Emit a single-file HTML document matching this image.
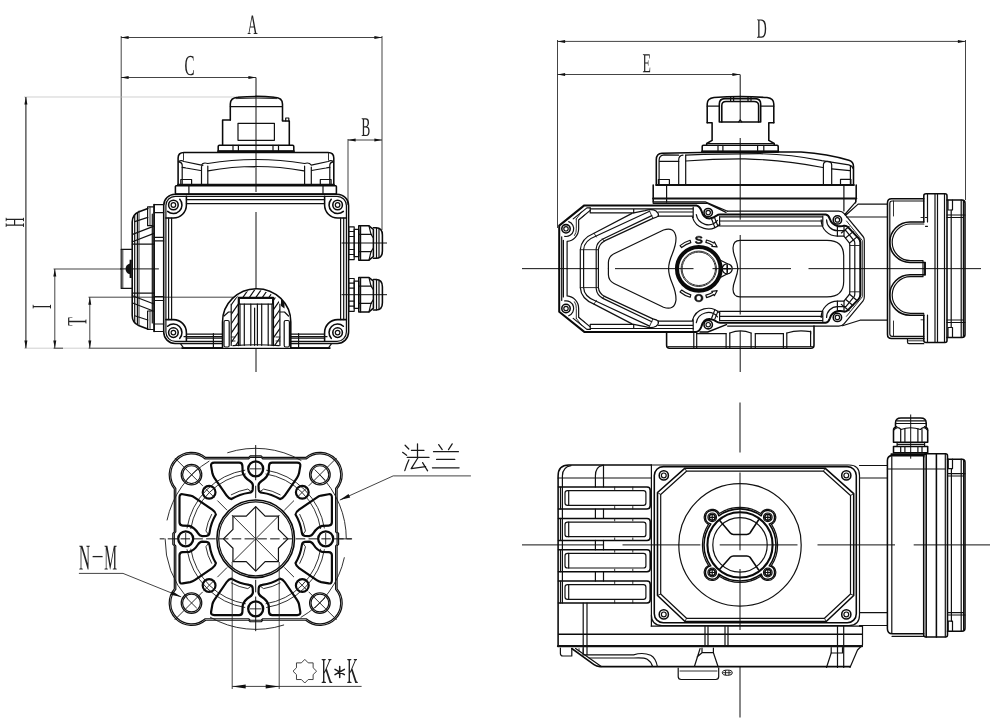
<!DOCTYPE html>
<html><head><meta charset="utf-8"><title>Actuator dimension drawing</title>
<style>
html,body{margin:0;padding:0;background:#fff;}
body{width:1000px;height:723px;overflow:hidden;font-family:"Liberation Serif",serif;}
svg{display:block;}
.n{fill:none;stroke:#111;stroke-width:1.2;stroke-linecap:round;stroke-linejoin:round}
.k{fill:none;stroke:#0a0a0a;stroke-width:1.55;stroke-linecap:round;stroke-linejoin:round}
.h{fill:none;stroke:#111;stroke-width:2.2;stroke-linecap:round;stroke-linejoin:round}
.t{fill:none;stroke:#1a1a1a;stroke-width:.9;stroke-linecap:round;stroke-linejoin:round}
.g{fill:none;stroke:#bbb;stroke-width:.7}
.d{fill:none;stroke:#222;stroke-width:.85}
.c{fill:none;stroke:#111;stroke-width:1}
.a{fill:#111;stroke:none}
.w{fill:#fff}
text{font-family:"Liberation Serif",serif;fill:#222;}
text.sb{font-family:"Liberation Sans",sans-serif;font-weight:bold;fill:#111}
</style></head><body>
<svg width="1000" height="723" viewBox="0 0 1000 723">
<rect x="0" y="0" width="1000" height="723" fill="#fff"/>
<!-- p_dims -->
<path class="d" d="M121.2 36L121.2 250"/>
<path class="d" d="M382 36L382 230"/>
<path class="d" d="M121 37.5L382 37.5"/>
<path class="a" d="M121 37.5L128.6 36L128.6 39Z"/>
<path class="a" d="M382 37.5L374.4 39L374.4 36Z"/>
<path transform="translate(252.5 34)" fill="#222" d="M-1.9 -0.7V0H-4.9V-0.7L-3.9 -1.1L-0.8 -18.5H0.5L3.8 -1.1L5 -0.7V0H1.1V-0.7L2.3 -1.1L1.4 -6.4H-2.2L-3.1 -1.1ZM-0.4 -16.5 -2 -7.6H1.2Z"/>
<path class="d" d="M121 77.5L256 77.5"/>
<path class="a" d="M121 77.5L128.6 76L128.6 79Z"/>
<path class="a" d="M256 77.5L248.4 79L248.4 76Z"/>
<path transform="translate(189.5 75)" fill="#222" d="M0.7 0.3Q-1.7 0.3 -3.1 -2.2Q-4.4 -4.7 -4.4 -9.3Q-4.4 -14.2 -3.1 -16.7Q-1.8 -19.2 0.7 -19.2Q2.2 -19.2 4 -18.5L4 -14.3H3.6L3.3 -16.8Q2.8 -17.4 2.1 -17.7Q1.5 -18.1 0.8 -18.1Q-1.1 -18.1 -2 -15.9Q-2.9 -13.8 -2.9 -9.3Q-2.9 -5.2 -2 -3Q-1.1 -0.8 0.7 -0.8Q1.5 -0.8 2.3 -1.2Q3 -1.6 3.4 -2.2L3.7 -5.1H4.2L4.2 -0.6Q2.5 0.3 0.7 0.3Z"/>
<path class="d" d="M348 139L348 205"/>
<path class="d" d="M348 140L382 140"/>
<path class="a" d="M348 140L355.6 138.5L355.6 141.5Z"/>
<path class="a" d="M382 140L374.4 141.5L374.4 138.5Z"/>
<path transform="translate(365.8 136)" fill="#222" d="M1.8 -13.4Q1.8 -15 1.3 -15.8Q0.8 -16.5 -0.3 -16.5H-1.7V-9.8H-0.3Q0.8 -9.8 1.3 -10.7Q1.8 -11.5 1.8 -13.4ZM2.5 -5Q2.5 -6.9 1.9 -7.8Q1.2 -8.6 -0.1 -8.6H-1.7V-1.2Q-0.8 -1.1 0.2 -1.1Q1.4 -1.1 1.9 -2.1Q2.5 -3 2.5 -5ZM-4.1 0V-0.7L-3 -1.1V-16.6L-4.1 -17V-17.7H-0.1Q1.6 -17.7 2.4 -16.7Q3.2 -15.7 3.2 -13.5Q3.2 -12 2.7 -10.9Q2.2 -9.8 1.3 -9.4Q2.5 -9.2 3.2 -8Q3.8 -6.9 3.8 -5.1Q3.8 -2.5 3 -1.2Q2.1 0.1 0.4 0.1L-2.4 0Z"/>
<path class="g" d="M24 97L256 97"/>
<path class="g" d="M24 348.2L89 348.2"/>
<path class="d" d="M25.9 97L25.9 348.2" style="stroke-width:1.1"/>
<path class="a" d="M25.9 97L27.4 104.6L24.4 104.6Z"/>
<path class="a" d="M25.9 348.2L24.4 340.6L27.4 340.6Z"/>
<path transform="translate(24 222.3) rotate(-90)" fill="#222" d="M-4.7 0V-0.7L-3.5 -1.1V-17.3L-4.7 -17.6V-18.3H-1V-17.6L-2.2 -17.3V-10H2.2V-17.3L1 -17.6V-18.3H4.6V-17.6L3.5 -17.3V-1.1L4.6 -0.7V0H1V-0.7L2.2 -1.1V-8.8H-2.2V-1.1L-1 -0.7V0Z"/>
<path class="d" d="M53.6 269L122 269"/>
<path class="d" d="M54.8 269L54.8 348.2"/>
<path class="a" d="M54.8 269L56.3 276.6L53.3 276.6Z"/>
<path class="a" d="M54.8 348.2L53.3 340.6L56.3 340.6Z"/>
<path transform="translate(51 306.6) rotate(-90)" fill="#222" d="M0.7 -1.1 1.8 -0.7V0H-1.8V-0.7L-0.6 -1.1V-17.3L-1.8 -17.6V-18.3H1.8V-17.6L0.7 -17.3Z"/>
<path class="d" d="M88.5 297.2L233.5 297.2"/>
<path class="d" d="M89.8 297.2L89.8 348.2"/>
<path class="a" d="M89.8 297.2L91.3 304.8L88.3 304.8Z"/>
<path class="a" d="M89.8 348.2L88.3 340.6L91.3 340.6Z"/>
<path transform="translate(86.4 321.5) rotate(-90)" fill="#222" d="M-2.1 0V-0.7L-0.7 -1.1V-17.2H-1Q-2.7 -17.2 -3.4 -16.9L-3.6 -14H-4V-18.3H4V-14H3.6L3.4 -16.9Q3.2 -17 2.5 -17.1Q1.8 -17.1 1 -17.1H0.7V-1.1L2.1 -0.7V0Z"/>
<path class="d" d="M53.6 348.2L63 348.2"/>
<path class="d" d="M88.7 348.2L182 348.2"/>
<path class="d" d="M557.5 40L557.5 228"/>
<path class="d" d="M965.5 40L965.5 200"/>
<path class="d" d="M557.5 41.4L965.5 41.4"/>
<path class="a" d="M557.5 41.4L565.1 39.9L565.1 42.9Z"/>
<path class="a" d="M965.5 41.4L957.9 42.9L957.9 39.9Z"/>
<path transform="translate(761.7 37.7)" fill="#222" d="M3.1 -9.3Q3.1 -13.1 2 -15.1Q1 -17.1 -0.9 -17.1H-2.2V-1.3Q-1.3 -1.2 -0.2 -1.2Q1.5 -1.2 2.3 -3.2Q3.1 -5.1 3.1 -9.3ZM-0.5 -18.3Q2 -18.3 3.3 -16.1Q4.5 -13.8 4.5 -9.3Q4.5 -4.7 3.3 -2.3Q2.1 0.1 -0.2 0.1L-3.5 0H-4.7V-0.7L-3.5 -1.1V-17.3L-4.7 -17.6V-18.3Z"/>
<path class="d" d="M557.5 74.5L740 74.5"/>
<path class="a" d="M557.5 74.5L565.1 73L565.1 76Z"/>
<path class="a" d="M740 74.5L732.4 76L732.4 73Z"/>
<path transform="translate(646.7 72.2)" fill="#222" d="M-3.8 -0.7 -2.6 -1.1V-16.9L-3.8 -17.3V-18H3V-13.7H2.5L2.3 -16.6Q1.5 -16.8 0.1 -16.8H-1.4V-9.8H1.1L1.3 -11.9H1.7V-6.4H1.3L1.1 -8.6H-1.4V-1.2H0.4Q2.2 -1.2 2.7 -1.4L3.1 -4.8H3.5L3.4 0H-3.8Z"/>
<!-- p_v1 -->
<path class="c" d="M256 77.5L256 192"/>
<path class="c" d="M256 212L256 372"/>
<path class="k" d="M230.3 120V104Q230.3 97.6 238 97.2Q256 95.6 274.5 97.2Q282.5 97.6 282.5 104V120"/>
<path class="t" d="M236 98.6Q256 97.6 277 98.6"/>
<path class="n" d="M230.3 106.6L282.5 106.6"/>
<path class="k" d="M230.3 120H222.6V145.3M282.5 120V121H289.3V145.3"/>
<path class="n" d="M285.7 121V118H288.8V121"/>
<rect class="n" x="238" y="123.3" width="36.4" height="17"/>
<path class="k" d="M219.4 145.3H292.6Q293.8 145.3 293.8 146.5V151.2H218.2V146.5Q218.2 145.3 219.4 145.3Z"/>
<path class="h" d="M218.2 151.3L293.8 151.3"/>
<path class="n" d="M233 145.3L233 151.2"/>
<path class="n" d="M238.4 145.3L238.4 151.2"/>
<path class="n" d="M273 145.3L273 151.2"/>
<path class="n" d="M278.5 145.3L278.5 151.2"/>
<path class="k" d="M178.1 184.9V158Q178.1 152.5 184 152.5H328Q333.8 152.5 333.8 158V184.9"/>
<path class="h" d="M178.1 184.9L333.8 184.9"/>
<path class="n" d="M182.2 184.9V165Q182.2 162.5 179 161.8M329.8 184.9V165Q329.8 162.5 333 161.8"/>
<path class="t" d="M183.5 153V160M328.5 153V160"/>
<path class="n" d="M178.5 161.8Q181 159.5 184 161.5L201.5 165.1Q203 162 207.8 163.5Q256 155.5 304.6 163.5Q309 162 311.3 165.1L328 161.5Q331 159.5 333.5 161.8"/>
<path class="n" d="M208 170.8Q256 162.2 304 170.8M182.2 167.3Q184 167.4 186 168L200.5 170.5M329.8 167.3Q328 167.4 326 168L311.5 170.5"/>
<path class="n" d="M201.5 184.9V167Q201.5 165.1 203 165.1M207.8 184.9V166M304.6 184.9V166M311.3 184.9V167"/>
<path class="n" d="M180.8 184.9V179.5H191.6V184.9M320.3 184.9V179.5H331.1V184.9"/>
<rect class="k" x="175.4" y="185.8" width="161" height="8.1" rx="0.8"/>
<path class="n" d="M188.9 185.8L188.9 193.9"/>
<path class="n" d="M323 185.8L323 193.9"/>
<rect class="k" x="163.7" y="194.2" width="184.9" height="149.2" rx="11.3"/>
<rect class="n" x="165.9" y="196.3" width="180.5" height="145" rx="9.3"/>
<circle class="k" cx="173.4" cy="205" r="4.8"/>
<circle class="n" cx="173.4" cy="205" r="2.3"/>
<circle class="k" cx="337.6" cy="205" r="4.8"/>
<circle class="n" cx="337.6" cy="205" r="2.3"/>
<circle class="k" cx="173.4" cy="332.6" r="4.8"/>
<circle class="n" cx="173.4" cy="332.6" r="2.3"/>
<circle class="k" cx="337.6" cy="332.6" r="4.8"/>
<circle class="n" cx="337.6" cy="332.6" r="2.3"/>
<path class="k" d="M186.4 196.3V205A13 13 0 0 1 173.4 218H165.9"/><path class="k" d="M179.79 199.25A8.6 8.6 0 0 1 167.65 211.39"/>
<path class="k" d="M324.6 196.3V205A13 13 0 0 0 337.6 218H346.4"/><path class="k" d="M331.21 199.25A8.6 8.6 0 0 0 343.35 211.39"/>
<path class="k" d="M186.4 341.3V332.6A13 13 0 0 0 173.4 319.6H165.9"/><path class="k" d="M179.79 338.35A8.6 8.6 0 0 0 167.65 326.21"/>
<path class="k" d="M324.6 341.3V332.6A13 13 0 0 1 337.6 319.6H346.4"/><path class="k" d="M331.21 338.35A8.6 8.6 0 0 1 343.35 326.21"/>
<path class="n" d="M186.4 199.7H324.6M186.4 338.2H222.5M290.8 338.2H324.6"/>
<path class="n" d="M168.6 218V319.6M343.7 218V319.6"/>
<path class="n" d="M186.4 203.6H324.6M171.6 218V319.6M340.6 218V319.6"/>
<path class="n" d="M186.5 334.1H222.5M290.8 334.1H324.5"/>
<path class="n" d="M184 336.7H222.5M290.8 336.7H327"/>
<path class="n" d="M180.5 343.6L183.5 347.9H328.5L331.5 343.6"/>
<path class="n" d="M176 343.5L336 343.5"/>
<path class="k" d="M182 348.1L330 348.1"/>
<path class="n" d="M213.4 333.5V347.9M298.6 333.5V347.9"/>
<path class="w" d="M222.5 347.7V322A33.9 33.1 0 0 1 290.8 322V347.7Z"/>
<defs><clipPath id="hc1"><path d="M231.2 345.5V303.5Q238 292 256 289.6Q274 292 279.9 303.5V345.5H273.3V297.6H238.5V345.5Z"/></clipPath></defs>
<path class="n" clip-path="url(#hc1)" d="M148 350L193 285M154.5 350L199.5 285M161 350L206 285M167.5 350L212.5 285M174 350L219 285M180.5 350L225.5 285M187 350L232 285M193.5 350L238.5 285M200 350L245 285M206.5 350L251.5 285M213 350L258 285M219.5 350L264.5 285M226 350L271 285M232.5 350L277.5 285M239 350L284 285M245.5 350L290.5 285M252 350L297 285M258.5 350L303.5 285M265 350L310 285M271.5 350L316.5 285M278 350L323 285M284.5 350L329.5 285M291 350L336 285M297.5 350L342.5 285M304 350L349 285M310.5 350L355.5 285M317 350L362 285M323.5 350L368.5 285M330 350L375 285M336.5 350L381.5 285M343 350L388 285M349.5 350L394.5 285M356 350L401 285M362.5 350L407.5 285M369 350L414 285M375.5 350L420.5 285M382 350L427 285M388.5 350L433.5 285M395 350L440 285M401.5 350L446.5 285"/>
<path class="k" d="M222.5 347.7V322A33.9 33.1 0 0 1 290.8 322V347.7"/>
<path class="n" d="M231.2 345.5V304M279.9 345.5V304"/>
<path class="k" d="M238.5 345.5V297.6H273.3V345.5"/>
<rect class="n" x="239.3" y="298.3" width="33.3" height="5.8"/>
<path class="n" d="M240 304.1L240 345.3"/>
<path class="n" d="M244.3 304.1L244.3 345.3"/>
<path class="n" d="M250.8 304.1L250.8 345.3"/>
<path class="n" d="M257.4 304.1L257.4 345.3"/>
<path class="n" d="M261.7 304.1L261.7 345.3"/>
<path class="n" d="M268.2 304.1L268.2 345.3"/>
<path class="n" d="M272 304.1L272 345.3"/>
<path class="n" d="M254.6 308L254.6 345.3"/>
<path class="n" d="M233 345.7Q256 343.8 279 345.7"/>
<path class="n" d="M224 316L228.5 312H231.2M288.5 316L284.5 312H279.9"/>
<rect class="n" x="224" y="320.5" width="5.2" height="26.5" rx="1.5"/>
<rect class="n" x="284.2" y="320.5" width="5.2" height="26.5" rx="1.5"/>
<path class="t" d="M231.2 337H235M231.2 341H235M279.9 337H276M279.9 341H276"/>
<path class="a" d="M281 299L284.5 303V308.5L281 306Z"/>
<path class="c" d="M341.5 243L387 243"/>
<rect class="n" x="348.8" y="226.8" width="5.4" height="32.8"/>
<path class="n" d="M348.8 231.5H354.2M348.8 236.5H354.2M348.8 249.5H354.2M348.8 254.5H354.2"/>
<rect class="n" x="354.2" y="229.4" width="4.6" height="27.2"/>
<path class="k" d="M358.8 225.8H369L373.4 229.5V256.5L369 260.2H358.8Z"/>
<path class="n" d="M358.8 234.4H371.5M358.8 251.6H371.5M360.6 225.8V260.2"/>
<path class="n" d="M369 225.8L371 234.4L373.4 238M369 260.2L371 251.6L373.4 248"/>
<path class="k" d="M373.4 227.7H376Q382.4 227.7 382.4 235V251Q382.4 258.3 376 258.3H373.4"/>
<path class="n" d="M376.5 227.7V258.3M379 229V257"/>
<path class="c" d="M341.5 294.7L387 294.7"/>
<rect class="n" x="348.8" y="278.5" width="5.4" height="32.8"/>
<path class="n" d="M348.8 283.2H354.2M348.8 288.2H354.2M348.8 301.2H354.2M348.8 306.2H354.2"/>
<rect class="n" x="354.2" y="281.1" width="4.6" height="27.2"/>
<path class="k" d="M358.8 277.5H369L373.4 281.2V308.2L369 311.9H358.8Z"/>
<path class="n" d="M358.8 286.1H371.5M358.8 303.3H371.5M360.6 277.5V311.9"/>
<path class="n" d="M369 277.5L371 286.1L373.4 289.7M369 311.9L371 303.3L373.4 299.7"/>
<path class="k" d="M373.4 279.4H376Q382.4 279.4 382.4 286.7V302.7Q382.4 310 376 310H373.4"/>
<path class="n" d="M376.5 279.4V310M379 280.7V308.7"/>
<path class="n" d="M163.7 204.6H154.1V331.5H163.7"/>
<path class="k" d="M154.1 204.6L154.1 331.5"/>
<path class="n" d="M152.3 214L152.3 323"/>
<path class="n" d="M154.1 212.6H163.7M154.1 237.3H163.7M154.1 240.9H163.7M154.1 296.5H163.7M154.1 300.5H163.7M154.1 324H163.7"/>
<path class="n" d="M154.1 206.8H147.6V225.7H152.3M154.1 329.5H147.6V311H152.3"/>
<path class="t" d="M150 206.8V225.7M150 311V329.5"/>
<path class="k" d="M147.8 208.5L138.5 212Q132.2 214.8 132.2 222V315.4Q132.2 322.6 138.5 325.4L147.8 328.9"/>
<path class="n" d="M134.7 215V322.4M137.4 212.6V324.8"/>
<path class="n" d="M134.7 221.6L147.8 217.4M132.6 234.4L154 226.1M132.4 241.7L154 233.4M132.4 244.2H154.1"/>
<path class="n" d="M134.7 315.8L147.8 320M132.6 303L154 311.3M132.4 295.7L154 304M132.4 293.2H154.1"/>
<path class="t" d="M139 211V325"/>
<path class="n" d="M132.2 249.4H121.2V288.4H132.2"/>
<path class="t" d="M122.8 249.4L122.8 288.4"/>
<path class="a" d="M131.8 259.8H129.6V263.5Q125.6 265 125.6 268.9Q125.6 272.8 129.6 274.3V278H131.8Z"/>
<path class="c" d="M120 268.9L158.9 268.9"/>
<!-- p_v2 -->
<path class="c" d="M740.2 74.5L740.2 120"/>
<path class="c" d="M740.2 138L740.2 219.7"/>
<path class="c" d="M740.2 235L740.2 314.5"/>
<path class="c" d="M740.2 331L740.2 372"/>
<path class="c" d="M522 268.65 H598M615 268.65 H693.5M712.5 268.65 H791M808.5 268.65 H981"/>
<path class="k" d="M707.2 122.8V104Q707.2 98.5 714 97.6Q740 95.5 767 97.6Q773.8 98.5 773.8 104V122.8"/>
<path class="k" d="M707.2 122.8H712.1V140.4L706.7 143.5V145.3M773.8 122.8H768.8V140.4L774.2 143.5V145.3"/>
<path class="n" d="M707.2 106.2H719.3M760.7 106.2H773.8"/>
<path class="k" d="M719.3 121.9V104Q719.3 98.6 725 98.6H755Q760.7 98.6 760.7 104V121.9Z"/>
<path class="k" d="M721.8 121.9V105.5Q721.8 101.4 726 101.4H754Q758.6 101.4 758.6 105.5V121.9"/>
<path class="n" d="M730.6 97V101.4M733.6 97V101.4M748 97V101.4M751 97V101.4"/>
<path class="n" d="M738.7 121.9L740.2 119.8L741.7 121.9"/>
<path class="n" d="M706.7 143.5L774.2 143.5"/>
<path class="k" d="M703.4 145.3H777Q778.2 145.3 778.2 146.5V151.6H702.2V146.5Q702.2 145.3 703.4 145.3Z"/>
<path class="h" d="M702.2 151.6L778.2 151.6"/>
<path class="n" d="M718 145.3L718 151.6"/>
<path class="n" d="M722.9 145.3L722.9 151.6"/>
<path class="n" d="M757.6 145.3L757.6 151.6"/>
<path class="n" d="M763.8 145.3L763.8 151.6"/>
<path class="k" d="M656.3 184.9V159.5Q656.3 153.6 662 153.2Q700 152.3 740 152.3Q780 151.8 801 152Q828 154 848.8 160.2Q853.5 161.6 853.5 166.5V184.9"/>
<path class="n" d="M659.1 184.9V160Q659.3 155.3 664 154.9L678.7 155.2M685.7 155.1Q720 153.9 760 153.7Q790 154.1 821.9 160.7L848.8 164.9Q852.5 165.8 853 168.5"/>
<path class="n" d="M659.5 161.4H678.7M685.7 161Q715 158.6 745 158.8Q785 160 822.9 167.5M831.7 168.8L849.9 170.6"/>
<path class="n" d="M678.7 184.9V160Q678.7 155.4 683 155.1M685.7 155.1V184.9"/>
<path class="n" d="M823.4 184.9V165Q823.4 161.3 827.5 161.3Q831.7 161.3 831.7 165V184.9"/>
<path class="n" d="M850.4 184.9V165.5"/>
<path class="n" d="M658.4 184.9V179.5H669.4V184.9M840.5 184.9V179.3H850.9V184.9"/>
<path class="h" d="M656.3 185L853.8 185"/>
<path class="k" d="M653.2 185V202.2M856.2 185V198.5"/>
<path class="h" d="M653.2 198.5L856.2 198.5"/>
<path class="n" d="M666.6 185V202.2M843.9 185V211M855.6 198.5V203"/>
<path class="n" d="M653.2 201.8H705.2L727.6 211.2M653.2 203.4H707.6L726 212.4"/>
<path class="n" d="M856 198.3V201.6L844.8 214.5M887.5 204.1H858.1L845.7 215.3M846.5 217H887.5"/>
<path class="n" d="M842.5 325.7L860 320.2H887.5"/>
<path class="k" d="M700 332H707.7L726.4 324.6"/>
<g id="v2t"><path class="k" style="stroke-width:2" d="M559.2 268.65 V225.6L584.3 205.4H696.4Q699.8 206 701.5 211Q703.6 218.6 709.5 218.4Q714 218 716.4 215.8Q718 214.6 720 214.6H825.7Q828.5 215 829.9 219.1Q831.5 224.8 838.2 226.2Q842 226.6 844 225.7Q846.5 225.4 848.2 227.4L858.6 238.2Q860.3 240 860.3 242.5V268.65"/>
<path class="n" d="M727.6 211.2H838.2Q842 211 844.2 213.7L863.1 236.5Q864.3 238 864.3 240.5V268.65"/>
<path class="t" d="M862.3 268.65V240.5L846.5 221"/>
<path class="n" d="M561.7 268.65V236.8M563.4 268.65V240.3"/>
<path class="n" d="M567.1 268.65V241.4A12.65 12.65 0 0 0 578.65 228.8V220L590.2 210.4"/>
<path class="n" d="M568.7 221.6A7.7 7.7 0 0 1 564.7 236.4"/>
<path class="t" d="M574.5 235.5A10.3 10.3 0 0 0 576.3 228.8V219"/>
<path class="n" d="M573.2 218.9L586.9 207.9H590.2"/>
<path class="t" d="M576.3 219L581.5 212M578.65 220L584.5 215.2"/>
<path class="n" d="M590.2 207.9V212.9H633.7V208.8M590.2 208.8H693.2"/>
<path class="n" d="M633.7 212.9L645 210.6Q652 208.6 656 211Q659.2 213.5 658.2 216.2"/>
<path class="n" d="M658.5 212H693.2M658.4 216.2H693.2M693.2 207V217.5"/>
<circle class="k" cx="566" cy="228.8" r="4.2"/>
<circle class="n" cx="566" cy="228.8" r="2.2"/>
<circle class="k" cx="708.2" cy="212.6" r="4.2"/>
<circle class="n" cx="708.2" cy="212.6" r="2.2"/>
<circle class="k" cx="837.4" cy="219.9" r="4.2"/>
<circle class="n" cx="837.4" cy="219.9" r="2.2"/>
<path class="n" d="M696.3 214.7A12.1 12.1 0 0 0 717.5 220.4"/>
<path class="n" d="M692.4 216.8A16.4 16.4 0 0 0 719.8 224.2"/>
<path class="n" d="M711.6 219L714.8 227.4M714.8 218.2L718 226.2"/>
<path class="n" d="M719.6 216.8H822.8M719.6 221H822.8M719.6 226H822.8M719.6 216.6V226M822.8 216V226"/>
<path class="n" d="M826.6 219.9A10.8 10.8 0 0 0 837.4 230.7H845.9L854.3 241Q854.8 242 854.8 243.5V268.65"/>
<path class="n" d="M821.2 219.9A16.2 16.2 0 0 0 837.4 236.1H843.9L849.3 242.8Q849.8 243.8 849.8 245.5V268.65"/>
<path class="n" d="M837.4 226.2V236.1M844 225.7V236.1"/>
<path class="n" d="M849.03 226.58L841.33 232.96M853.18 231.59L845.48 237.97M857.32 236.59L849.62 242.97"/>
<path class="t" d="M849.8 245.5H860.3"/>
<path class="n" d="M580.3 268.65V249.7Q581 238.5 594 233.2L632 213.4"/>
<path class="n" d="M583.6 268.65V249.7Q584 240.5 596.2 236L649.6 211.2"/>
<path class="n" d="M596.2 268.65V248.6Q596.8 242 603.4 238.7L651.8 215.6"/>
<path class="n" d="M598.4 268.65V249.7Q599 244 604.5 240.9L652.9 218.4Q657 217.4 658.2 216.2"/>
<path class="t" d="M580.3 249.7H598.4M594 233.2L596.4 237M602.3 238.7L604.5 241.4M649.6 211.2L652.9 218.4"/>
<path class="n" d="M608.4 268.65V262.5Q608.6 256.5 614 253.8L663.5 230Q674.5 226.3 676 237.5C676.5 251 668.6 256 668.6 268.65"/>
<path class="n" d="M737.8 268.65C737.5 260 733 256 733 248Q733.2 240.4 740 240.4H827Q843.7 240.4 843.7 256V268.65"/>
<path class="k" d="M923.8 222H910A20.25 20.25 0 0 0 910 262.5H925V268.65"/>
<path class="n" d="M923.8 224H910.5A18.3 18.3 0 0 0 910.5 260.6H923V268.65"/></g>
<use href="#v2t" transform="translate(0 537.3) scale(1 -1)"/>
<circle cx="698.8" cy="268.8" r="21.8" fill="none" stroke="#0a0a0a" stroke-width="4.1"/>
<circle class="t" cx="698.8" cy="268.8" r="17.7"/>
<circle class="t" cx="698.8" cy="268.8" r="16.7"/>
<path class="n" d="M719 259.5L727.5 263.8M719 278.1L727.5 273.8"/>
<circle cx="727.2" cy="268.8" r="5" fill="#fff" stroke="#0a0a0a" stroke-width="1.3"/>
<path class="k" d="M723.4 268.8H731M727.2 265V272.6"/>
<path transform="translate(698.8 243.6)" fill="#111" stroke="#111" stroke-width="0.55" stroke-linejoin="round" d="M3.6 -2.1Q3.6 -1 2.7 -0.5Q1.8 0.1 -0 0.1Q-1.6 0.1 -2.5 -0.4Q-3.5 -0.9 -3.7 -1.9L-2 -2.1Q-1.8 -1.6 -1.3 -1.3Q-0.8 -1 0 -1Q1.9 -1 1.9 -2Q1.9 -2.3 1.7 -2.5Q1.5 -2.7 1.1 -2.9Q0.7 -3 -0.4 -3.2Q-1.3 -3.4 -1.7 -3.5Q-2.1 -3.6 -2.4 -3.8Q-2.7 -3.9 -2.9 -4.2Q-3.1 -4.4 -3.2 -4.7Q-3.3 -5 -3.3 -5.4Q-3.3 -6.4 -2.5 -6.9Q-1.6 -7.4 0 -7.4Q1.6 -7.4 2.4 -7Q3.1 -6.6 3.4 -5.6L1.7 -5.4Q1.5 -5.8 1.1 -6.1Q0.7 -6.3 -0 -6.3Q-1.6 -6.3 -1.6 -5.5Q-1.6 -5.2 -1.4 -5Q-1.3 -4.8 -0.9 -4.7Q-0.6 -4.5 0.4 -4.4Q1.6 -4.1 2.1 -3.9Q2.7 -3.8 3 -3.5Q3.3 -3.3 3.4 -2.9Q3.6 -2.6 3.6 -2.1Z"/>
<path transform="translate(698.8 301.7)" fill="#111" stroke="#111" stroke-width="0.55" stroke-linejoin="round" d="M4.2 -3.7Q4.2 -2.5 3.7 -1.7Q3.2 -0.8 2.2 -0.4Q1.3 0.1 -0 0.1Q-2 0.1 -3.1 -0.9Q-4.2 -1.9 -4.2 -3.7Q-4.2 -5.4 -3.1 -6.4Q-2 -7.4 -0 -7.4Q2 -7.4 3.1 -6.4Q4.2 -5.4 4.2 -3.7ZM2.4 -3.7Q2.4 -4.9 1.8 -5.5Q1.2 -6.2 -0 -6.2Q-1.2 -6.2 -1.8 -5.5Q-2.5 -4.9 -2.5 -3.7Q-2.5 -2.5 -1.8 -1.8Q-1.2 -1.1 -0 -1.1Q1.2 -1.1 1.8 -1.8Q2.4 -2.4 2.4 -3.7Z"/>
<path class="n" d="M681.62 247.58A27.3 27.3 0 0 1 690.82 242.69L690.09 240.3A29.8 29.8 0 0 0 680.05 245.64Z"/>
<path class="n" d="M681.62 290.02A27.3 27.3 0 0 0 690.82 294.91L690.09 297.3A29.8 29.8 0 0 1 680.05 291.96Z"/>
<path class="n" d="M705.87 242.43A27.3 27.3 0 0 1 712.45 245.16L711.8 246.28L717.15 246.93L714.35 241.87L713.7 242.99A29.8 29.8 0 0 0 706.51 240.02Z"/>
<path class="n" d="M705.87 295.17A27.3 27.3 0 0 0 712.45 292.44L711.8 291.32L717.15 290.67L714.35 295.73L713.7 294.61A29.8 29.8 0 0 1 706.51 297.58Z"/>
<path class="k" d="M923.8 198.8H891.5Q887.5 198.8 887.5 202.8V334.5Q887.5 338.5 891.5 338.5H923.8"/>
<path class="n" d="M923.8 201H892Q889.8 201 889.8 203.5V333.8Q889.8 336.3 892 336.3H923.8"/>
<path class="t" d="M893.5 201V216M893.5 336.3V321M923.8 217.5H921M923.8 319.8H921"/>
<path class="k" d="M923.8 222V195.8Q923.8 193.8 926 193.8H945Q947 193.8 947 195.8V340.5Q947 342.5 945 342.5H926Q923.8 342.5 923.8 340.5V315"/>
<path class="n" d="M927.5 193.8V222M927.5 315V342.5M925.5 217.5H927.5M925.5 226.3H927.5"/>
<path class="k" d="M925 262.5V275"/>
<path class="n" d="M935 193.8V342.5M937.5 193.8V342.5M944.5 194V342.3"/>
<path class="k" d="M947 200H962Q965 200 965 203V334.5Q965 337.5 962 337.5H947"/>
<path class="n" d="M951.2 210V327.5M961.2 200V337.5M963.4 201V336.5"/>
<path class="n" d="M947 215H965M947 217.5H963.4M947 322.5H965M947 320H963.4"/>
<path class="n" d="M948 200V210H952.5V200M948 337.5V327.5H952.5V337.5"/>
<path class="n" d="M907.5 338.5V342Q907.5 343.7 909 343.7H923.8"/>
<path class="t" d="M908.5 340.8L923.8 340.8"/>
<path class="k" d="M666.6 332.5V345.2Q666.6 348.2 669.6 348.2H811Q814 348.2 814 345.2V326"/>
<path class="t" d="M668 346.5L812.5 346.5"/>
<path class="n" d="M693.8 333V348M696.7 333V348M726.1 333.5V348M729.8 333V348M751.1 333V348M755.3 333.5V348M783.4 333.5V348M786.8 333V348M810.6 331V346.5"/>
<path class="n" d="M696.7 333.6H726.1M729.8 333Q740.5 328.6 751.1 333M755.3 333.6H783.4M786.8 333Q797 329.6 810.6 331.6V334"/>
<!-- p_v3 -->
<g transform="translate(255.7 538.85)"><path class="n" d="M-50.01 -81.4L-7 -81.4L-5.5 -82.9L5.5 -82.9L7 -81.4L50.01 -81.4A22.3 22.3 0 0 1 81.4 -50.01L81.4 -7L82.9 -5.5L82.9 5.5L81.4 7L81.4 50.01A22.3 22.3 0 0 1 50.01 81.4L7 81.4L5.5 82.9L-5.5 82.9L-7 81.4L-50.01 81.4A22.3 22.3 0 0 1 -81.4 50.01L-81.4 7L-82.9 5.5L-82.9 -5.5L-81.4 -7L-81.4 -50.01A22.3 22.3 0 0 1 -50.01 -81.4Z"/>
<path class="n" d="M-50.56 -79.9L-7 -79.9L-5.5 -81.4L5.5 -81.4L7 -79.9L50.56 -79.9A20.8 20.8 0 0 1 79.9 -50.56L79.9 -7L81.4 -5.5L81.4 5.5L79.9 7L79.9 50.56A20.8 20.8 0 0 1 50.56 79.9L7 79.9L5.5 81.4L-5.5 81.4L-7 79.9L-50.56 79.9A20.8 20.8 0 0 1 -79.9 50.56L-79.9 7L-81.4 5.5L-81.4 -5.5L-79.9 -7L-79.9 -50.56A20.8 20.8 0 0 1 -50.56 -79.9Z"/>
<circle class="n" cx="-64.2" cy="-64.2" r="10.3"/>
<circle class="n" cx="-64.2" cy="-64.2" r="8.9"/>
<circle class="k" cx="-46.6" cy="-46.6" r="6.4" style="stroke-width:2.2"/>
<circle class="n" cx="-64.2" cy="64.2" r="10.3"/>
<circle class="n" cx="-64.2" cy="64.2" r="8.9"/>
<circle class="k" cx="-46.6" cy="46.6" r="6.4" style="stroke-width:2.2"/>
<circle class="n" cx="64.2" cy="-64.2" r="10.3"/>
<circle class="n" cx="64.2" cy="-64.2" r="8.9"/>
<circle class="k" cx="46.6" cy="-46.6" r="6.4" style="stroke-width:2.2"/>
<circle class="n" cx="64.2" cy="64.2" r="10.3"/>
<circle class="n" cx="64.2" cy="64.2" r="8.9"/>
<circle class="k" cx="46.6" cy="46.6" r="6.4" style="stroke-width:2.2"/>
<circle class="k" cx="0" cy="-70" r="7.5" style="stroke-width:2.3"/>
<path class="t" d="M-5.5 -70L5.5 -70"/>
<circle class="k" cx="70" cy="0" r="7.5" style="stroke-width:2.3"/>
<path class="t" d="M70 -5.5L70 5.5"/>
<circle class="k" cx="0" cy="70" r="7.5" style="stroke-width:2.3"/>
<path class="t" d="M-5.5 70L5.5 70"/>
<circle class="k" cx="-70" cy="0" r="7.5" style="stroke-width:2.3"/>
<path class="t" d="M-70 -5.5L-70 5.5"/>
<circle class="k" cx="0" cy="0" r="38.8"/>
<circle class="n" cx="0" cy="0" r="37"/>
<path class="n" d="M32.2 0L22.73 9.41L22.77 22.77L9.41 22.73L0 32.2L-9.41 22.73L-22.77 22.77L-22.73 9.41L-32.2 0L-22.73 -9.41L-22.77 -22.77L-9.41 -22.73L0 -32.2L9.41 -22.73L22.77 -22.77L22.73 -9.41Z"/>
<path class="t" d="M64.89 10.28A65.7 65.7 0 0 1 10.28 64.89"/>
<path class="t" d="M68.64 10.87A69.5 69.5 0 0 1 10.87 68.64"/>
<path class="t" d="M-10.28 64.89A65.7 65.7 0 0 1 -64.89 10.28"/>
<path class="t" d="M-10.87 68.64A69.5 69.5 0 0 1 -68.64 10.87"/>
<path class="t" d="M-64.89 -10.28A65.7 65.7 0 0 1 -10.28 -64.89"/>
<path class="t" d="M-68.64 -10.87A69.5 69.5 0 0 1 -10.87 -68.64"/>
<path class="t" d="M10.28 -64.89A65.7 65.7 0 0 1 64.89 -10.28"/>
<path class="t" d="M10.87 -68.64A69.5 69.5 0 0 1 68.64 -10.87"/>
<g id="pk"><path class="k" style="stroke-width:2.2" d="M-24.3 -39.8A46.6 46.6 0 0 1 -6.5 -46.1Q-3.3 -46.4 -3 -49.2L-2.8 -53.5Q-2.9 -56 -5.9 -57.9Q-11.6 -61.4 -13 -66.5L-13.3 -73Q-13.4 -76.2 -16.5 -76.2H-41.5Q-45.1 -76.2 -44.6 -73L-43.3 -65.5Q-42.7 -63 -41.3 -61L-29.2 -43.4Q-27 -40.2 -24.3 -39.8Z"/><path class="t" d="M-24.43 -44.08A50.4 50.4 0 0 1 -7.88 -49.78L-4.8 -47.5"/></g>
<use href="#pk" transform="scale(-1 1)"/>
<use href="#pk" transform="rotate(90)"/>
<use href="#pk" transform="rotate(90) scale(-1 1)"/>
<use href="#pk" transform="rotate(180)"/>
<use href="#pk" transform="rotate(180) scale(-1 1)"/>
<use href="#pk" transform="rotate(270)"/>
<use href="#pk" transform="rotate(270) scale(-1 1)"/>
<path class="c" d="M-96 0H96" stroke-dasharray="9.5 3.3" stroke-dashoffset="4.75"/>
<path class="c" d="M0 -93.8V-58.6M0 -53.1V-40.6M0 -32.3V31.3M0 41V53.5M0 57.7V92.3"/>
<path class="t" d="M0 0L23.55 23.55"/>
<path class="t" d="M28.92 28.92L38.04 38.04"/>
<path class="t" d="M41.72 41.72L51.62 51.62"/>
<path class="t" d="M53.25 53.25L80.61 80.61"/>
<path class="t" d="M69.08 59.18L59.18 69.08"/>
<path class="t" d="M0 0L-23.55 23.55"/>
<path class="t" d="M-28.92 28.92L-38.04 38.04"/>
<path class="t" d="M-41.72 41.72L-51.62 51.62"/>
<path class="t" d="M-53.25 53.25L-80.61 80.61"/>
<path class="t" d="M-59.18 69.08L-69.08 59.18"/>
<path class="t" d="M0 0L-23.55 -23.55"/>
<path class="t" d="M-28.92 -28.92L-38.04 -38.04"/>
<path class="t" d="M-41.72 -41.72L-51.62 -51.62"/>
<path class="t" d="M-53.25 -53.25L-80.61 -80.61"/>
<path class="t" d="M-69.08 -59.18L-59.18 -69.08"/>
<path class="t" d="M0 0L23.55 -23.55"/>
<path class="t" d="M28.92 -28.92L38.04 -38.04"/>
<path class="t" d="M41.72 -41.72L51.62 -51.62"/>
<path class="t" d="M53.25 -53.25L80.61 -80.61"/>
<path class="t" d="M59.18 -69.08L69.08 -59.18"/>
<path class="t" d="M-88.62 -18.84A90.6 90.6 0 0 1 -46.66 -77.66"/>
<path class="t" d="M-28 -86.17A90.6 90.6 0 0 1 45.3 -78.46"/>
<path class="t" d="M64.06 -64.06A90.6 90.6 0 0 1 90.6 0"/>
<path class="t" d="M88.62 18.84A90.6 90.6 0 0 1 45.3 78.46"/>
<path class="t" d="M28 86.17A90.6 90.6 0 0 1 -45.3 78.46"/>
<path class="t" d="M-68.38 59.44A90.6 90.6 0 0 1 -90.6 0"/>
<path class="t" d="M84 0L96 0"/></g>
<path class="d" d="M232.2 562.5L232.2 689"/>
<path class="d" d="M279.2 562.5L279.2 689"/>
<path class="d" d="M232.2 686.4L361.6 686.4"/>
<path class="a" d="M232.2 686.4L245.7 684.4L245.7 688.4Z"/>
<path class="a" d="M279.2 686.4L265.7 688.4L265.7 684.4Z"/>
<path class="d" d="M316.6 671.2L313.11 674.64L313.14 679.54L308.24 679.51L304.8 683L301.36 679.51L296.46 679.54L296.49 674.64L293 671.2L296.49 667.76L296.46 662.86L301.36 662.89L304.8 659.4L308.24 662.89L313.14 662.86L313.11 667.76Z"/>
<path transform="translate(326.8 683)" fill="#222" d="M4.6 -23.9V-23L3.4 -22.5L0 -14.5L4.3 -1.4L5.4 -0.9V0H2.9L-1 -12.1L-2.4 -9.5V-1.4L-0.9 -0.9V0H-5.1V-0.9L-3.8 -1.4V-22.5L-5.1 -23V-23.9H-1.1V-23L-2.4 -22.5V-11.2L2.4 -22.5L1.4 -23V-23.9Z"/>
<path transform="translate(352.4 683)" fill="#222" d="M4.6 -23.9V-23L3.4 -22.5L0 -14.5L4.3 -1.4L5.4 -0.9V0H2.9L-1 -12.1L-2.4 -9.5V-1.4L-0.9 -0.9V0H-5.1V-0.9L-3.8 -1.4V-22.5L-5.1 -23V-23.9H-1.1V-23L-2.4 -22.5V-11.2L2.4 -22.5L1.4 -23V-23.9Z"/>
<path d="M339.7 666.6L339.7 677.4M335.02 669.3L344.38 674.7M344.38 669.3L335.02 674.7" fill="none" stroke="#1a1a1a" stroke-width="1.5" stroke-linecap="round"/>
<path transform="translate(84.5 569.6)" fill="#222" d="M3.2 -22.5 1.8 -23V-23.9H5.3V-23L4 -22.5V0H3.2L-3.1 -21.5V-1.4L-1.7 -0.9V0H-5.2V-0.9L-3.9 -1.4V-22.5L-5.2 -23V-23.9H-2.1L3.2 -6.2Z"/>
<path transform="translate(110.6 569.6)" fill="#222" d="M-0.3 0H-0.6L-4.1 -20.5V-1.4L-2.8 -0.9V0H-6.1V-0.9L-4.8 -1.4V-22.5L-6.1 -23V-23.9H-3.2L-0.1 -5.7L3.3 -23.9H6.1V-23L4.8 -22.5V-1.4L6.1 -0.9V0H2.2V-0.9L3.5 -1.4V-20.5Z"/>
<path d="M92.6 556.6H102.6" fill="none" stroke="#222" stroke-width="1.3"/>
<path class="d" d="M78.9 573.4H123L181.2 596.9"/>
<path class="a" d="M181.2 596.9L170.71 594.82L172.21 591.11Z"/>
<path class="d" d="M470.9 475.9H393.2L339.8 500.1"/>
<path class="a" d="M339.8 500.1L348.54 493.94L350.19 497.59Z"/>
<path d="M405.1 445.2L408.8 449M402.6 452.3L406.6 455.3M404.8 470.6Q406.5 465 408.9 459.8M411.4 450.3H424M417.5 443.8V457.3M407.2 457.4H429M417.8 458L411.2 468.6L425.6 466.6M422.6 462.6L427.6 470.8M438.7 444.6L442.2 449.6M452.2 443.9L448.5 449.7M433.5 451.7H458.4M436.6 459.4H454.8M432.4 467.8H459.1" fill="none" stroke="#1a1a1a" stroke-width="1.25" stroke-linecap="round" stroke-linejoin="round"/>
<!-- p_v4 -->
<path class="c" d="M740 402.5V452.5M740 472.5V550.3M740 569V630M740 666.2V717.5"/>
<path class="c" d="M522 544.9H603.7M622.5 544.9H700.4M719.7 544.9H797.5M817.5 544.9H895M913.7 544.9H990"/>
<path class="k" d="M651.3 465H568.7Q558.1 465 558.1 476V646.2"/>
<path class="n" d="M562.4 487V476Q562.4 467 571 465.6"/>
<path class="n" d="M558.1 478L651.3 478"/>
<path class="n" d="M651.4 465L651.4 626"/>
<path class="n" d="M595.4 487V476Q595.4 466.5 602.5 465.3M603.5 465V487"/>
<path class="n" d="M595.4 509V518.4M603.5 509V518.4"/>
<path class="n" d="M562.4 509V518.4"/>
<path class="n" d="M595.4 540.4V549.8M603.5 540.4V549.8"/>
<path class="n" d="M562.4 540.4V549.8"/>
<path class="n" d="M595.4 571.7V581.1M603.5 571.7V581.1"/>
<path class="n" d="M562.4 571.7V581.1"/>
<path class="k" d="M558.5 487H647Q650.2 487 650.2 490.2V505.8Q650.2 509 647 509H558.5"/>
<path class="n" d="M567.5 490.7H643.5Q645.9 490.7 645.9 493V503Q645.9 505.3 643.5 505.3H567.5Q565 505.3 565 503V493Q565 490.7 567.5 490.7Z"/>
<path class="n" d="M562.4 487V509M568.7 490.7V505.3M560.5 487V509"/>
<path class="t" d="M614.7 487V489.5M632.8 487V489.5M614.7 509V506.5M632.8 509V506.5"/>
<path class="k" d="M558.5 518.4H647Q650.2 518.4 650.2 521.6V537.2Q650.2 540.4 647 540.4H558.5"/>
<path class="n" d="M567.5 522.1H643.5Q645.9 522.1 645.9 524.4V534.4Q645.9 536.7 643.5 536.7H567.5Q565 536.7 565 534.4V524.4Q565 522.1 567.5 522.1Z"/>
<path class="n" d="M562.4 518.4V540.4M568.7 522.1V536.7M560.5 518.4V540.4"/>
<path class="t" d="M614.7 518.4V520.9M632.8 518.4V520.9M614.7 540.4V537.9M632.8 540.4V537.9"/>
<path class="k" d="M558.5 549.7H647Q650.2 549.7 650.2 552.9V568.5Q650.2 571.7 647 571.7H558.5"/>
<path class="n" d="M567.5 553.4H643.5Q645.9 553.4 645.9 555.7V565.7Q645.9 568 643.5 568H567.5Q565 568 565 565.7V555.7Q565 553.4 567.5 553.4Z"/>
<path class="n" d="M562.4 549.7V571.7M568.7 553.4V568M560.5 549.7V571.7"/>
<path class="t" d="M614.7 549.7V552.2M632.8 549.7V552.2M614.7 571.7V569.2M632.8 571.7V569.2"/>
<path class="k" d="M558.5 581H647Q650.2 581 650.2 584.2V599.8Q650.2 603 647 603H558.5"/>
<path class="n" d="M567.5 584.7H643.5Q645.9 584.7 645.9 587V597Q645.9 599.3 643.5 599.3H567.5Q565 599.3 565 597V587Q565 584.7 567.5 584.7Z"/>
<path class="n" d="M562.4 581V603M568.7 584.7V599.3M560.5 581V603"/>
<path class="t" d="M614.7 581V583.5M632.8 581V583.5M614.7 603V600.5M632.8 603V600.5"/>
<path class="n" d="M583.2 603V655M587 603V655"/>
<path class="k" d="M558.7 634.2L862 634.2"/>
<path class="h" d="M558 646.2L862 646.2"/>
<path class="n" d="M651.3 465H849Q859.5 465 859.5 475.5V615Q859.5 625.5 849 625.5H662Q651.4 625.5 651.4 615"/>
<rect class="k" x="654.3" y="466.6" width="202" height="156.2" rx="9"/>
<circle class="k" cx="663.8" cy="475.4" r="4.6"/>
<circle class="n" cx="663.8" cy="475.4" r="2.4"/>
<circle class="k" cx="846.3" cy="475.4" r="4.6"/>
<circle class="n" cx="846.3" cy="475.4" r="2.4"/>
<circle class="k" cx="663.8" cy="614.4" r="4.6"/>
<circle class="n" cx="663.8" cy="614.4" r="2.4"/>
<circle class="k" cx="846.3" cy="614.4" r="4.6"/>
<circle class="n" cx="846.3" cy="614.4" r="2.4"/>
<path class="k" d="M685 468.2H825L853.7 493.7V595.5L826.2 621.5H685L657.5 595.5V492.5Z"/>
<path class="n" d="M686.5 471.2H823.5L850.5 495.5V594L824.5 618.3H686.5L660.7 594V494.5Z"/>
<path class="t" d="M685 468.2L686.5 471.2M825 468.2L823.5 471.2M853.7 493.7L850.5 495.5M853.7 595.5L850.5 594M826.2 621.5L824.5 618.3M685 621.5L686.5 618.3M657.5 595.5L660.7 594M657.5 492.5L660.7 494.5"/>
<circle class="n" cx="740" cy="544.9" r="61.2"/>
<path class="n" d="M760.74 513.54A8 8 0 1 1 771.51 524.39A37.6 37.6 0 0 1 771.51 565.41A8 8 0 1 1 760.74 576.26A37.6 37.6 0 0 1 719.26 576.26A8 8 0 1 1 708.49 565.41A37.6 37.6 0 0 1 708.49 524.39A8 8 0 1 1 719.26 513.54A37.6 37.6 0 0 1 760.74 513.54Z"/>
<path class="k" d="M761.17 515.78A6.8 6.8 0 1 1 769.27 523.94A36 36 0 0 1 769.27 565.86A6.8 6.8 0 1 1 761.17 574.02A36 36 0 0 1 718.83 574.02A6.8 6.8 0 1 1 710.73 565.86A36 36 0 0 1 710.73 523.94A6.8 6.8 0 1 1 718.83 515.78A36 36 0 0 1 761.17 515.78Z"/>
<circle cx="740" cy="544.9" r="32.6" fill="none" stroke="#0a0a0a" stroke-width="2.1"/>
<circle class="n" cx="740" cy="544.9" r="27.2"/>
<circle class="n" cx="712.2" cy="517.3" r="4.3"/>
<circle class="k" cx="712.2" cy="517.3" r="3"/>
<path class="n" d="M709.8 517.3H714.6M712.2 514.9V519.7"/>
<circle class="n" cx="712.2" cy="572.5" r="4.3"/>
<circle class="k" cx="712.2" cy="572.5" r="3"/>
<path class="n" d="M709.8 572.5H714.6M712.2 570.1V574.9"/>
<circle class="n" cx="767.8" cy="517.3" r="4.3"/>
<circle class="k" cx="767.8" cy="517.3" r="3"/>
<path class="n" d="M765.4 517.3H770.2M767.8 514.9V519.7"/>
<circle class="n" cx="767.8" cy="572.5" r="4.3"/>
<circle class="k" cx="767.8" cy="572.5" r="3"/>
<path class="n" d="M765.4 572.5H770.2M767.8 570.1V574.9"/>
<path class="k" d="M719.7 520.6L730.3 533Q731.5 534.4 733.5 534.4H746.8Q748.8 534.4 750 533L758.5 520"/>
<path class="k" d="M719.7 569.2L730.3 557.3Q731.5 555.9 733.5 555.9H746.8Q748.8 555.9 750 557.3L758.5 569.8"/>
<path class="n" d="M859.5 465.5H887.5M859.5 478H887.5M859.5 612.7H887.5M859.5 625.5H887.5"/>
<path class="k" d="M887.4 460.5Q887.4 455.6 892.4 455.6H923.7V633.7H892.4Q887.4 633.7 887.4 628.7Z"/>
<path class="n" d="M891.8 456.5V633M892 636.3H923.7M887.4 469H945.3"/>
<path class="k" d="M923.7 457V455.8Q923.7 453.7 926 453.7H945.5Q947.5 453.7 947.5 455.8V635Q947.5 637 945.5 637H926Q923.7 637 923.7 635V633.7"/>
<path class="k" d="M926.2 453.7L926.2 637"/>
<path class="k" d="M936.4 453.7V637"/>
<path class="n" d="M945.3 454V636.8"/>
<path class="k" d="M947.5 459.2H962Q965 459.2 965 462.2V628.2Q965 631.2 962 631.2H947.5"/>
<path class="n" d="M961.2 459.2V631.2M963.6 460V630.4M951.4 468.7V621.2"/>
<path class="n" d="M948.2 459.2V468.7H952.5V459.2M948.2 631.2V621.2H952.5V631.2"/>
<path class="n" d="M947.5 473.7H965M947.5 476H963.6M947.5 615H965M947.5 612.7H963.6"/>
<path class="c" d="M910.7 414.5L910.7 458.7"/>
<path class="k" d="M895.5 426.2V423Q895.5 418 901 418H920.5Q926.2 418 926.2 423V426.2"/>
<path class="n" d="M897 420.8H924.7M896 423.5H925.7"/>
<path class="k" d="M893.5 430V442.3H927.7V430Q927.7 427.5 924.5 426.8M893.5 430Q893.5 427.5 896.7 426.8"/>
<path class="n" d="M893.5 430.5Q897.5 425.5 901 429.5Q910.5 426 920.5 429.5Q924 425.5 927.7 430.5"/>
<path class="n" d="M900.7 429.5V442.3M904.9 428.5V442.3M917.9 428.5V442.3M922 429.5V442.3"/>
<path class="n" d="M897.1 442.3V446.5M924.6 442.3V446.5M897.1 444.4H924.6"/>
<path class="k" d="M893.5 446.5H927.7V452.7H893.5Z"/>
<path class="n" d="M900.7 446.5V452.7M904.9 446.5V452.7M917.9 446.5V452.7M922 446.5V452.7"/>
<path class="k" style="stroke-width:2" d="M891.4 454.2H925"/>
<path class="n" d="M859.5 626.2H862.5V645L857.5 650L850 667.5"/>
<path class="n" d="M651.2 626.2H862.5"/>
<path class="n" d="M837.5 626.2V667.5M843.7 626.2V667.5"/>
<path class="n" d="M831.2 647.5V653H842.5V647.5"/>
<path class="n" d="M826.5 667.5L831.2 653"/>
<path class="n" d="M705 626.2V646.2M708 626.2V646.2M725 626.2V646.2M728 626.2V646.2"/>
<path class="n" d="M560.4 648V653.5Q560.4 656 563 656H571.8V648.5"/>
<path class="k" d="M571.8 648.5L594 664.7Q596.5 666.6 600 666.6H850"/>
<path class="n" d="M575.6 648.5L601.3 666.5"/>
<path class="n" d="M584.6 654.8H633.6Q643 652 650.7 655.2Q655.8 658 657.4 666.5"/>
<path class="n" d="M589.2 658H633.6Q644 657.4 647.2 659.2Q651 661.5 652.6 666.5"/>
<path class="t" d="M579 648.7V651M583.2 648.7V655"/>
<path class="n" d="M702 648V652.7H713.4V648M700.1 648.5L694.4 666.5M713.4 652.7L718.2 667M697 657L702 652.7"/>
<path class="n" d="M678.2 668V676.5Q678.2 679.5 681.2 679.5H715.7Q718.7 679.5 718.7 676.5V668"/>
<path class="t" d="M680 671L717 671"/>
<ellipse cx="727.3" cy="672.7" rx="5" ry="2.6" fill="#fff" stroke="#111" stroke-width="1"/>
<path class="t" d="M723.5 672.7H731M725.5 670.8V674.6M729 670.8V674.6"/>
</svg>
</body></html>
